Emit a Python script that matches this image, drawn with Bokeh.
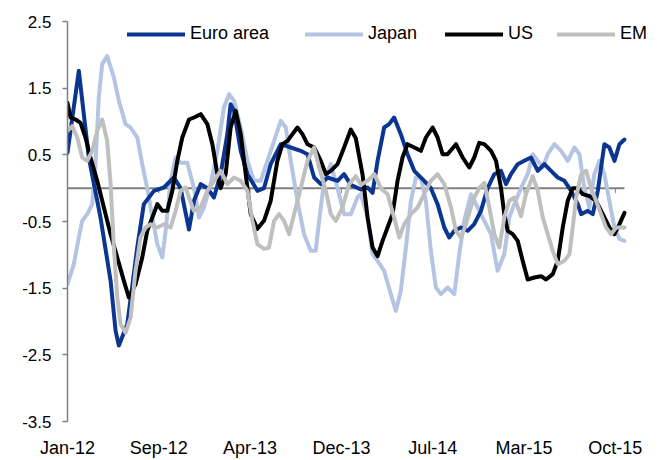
from bokeh.plotting import figure
from bokeh.models import Range1d, FixedTicker, Legend, LegendItem
from bokeh.embed import file_html
from bokeh.resources import INLINE

# x axis: months since mid-Jan 2012
x_tick_pos = [0, 7.5, 15, 22.5, 30, 37.5, 45]
x_tick_labels = ["Jan-12", "Sep-12", "Apr-13", "Dec-13", "Jul-14", "Mar-15", "Oct-15"]
y_tick_pos = [-3.5, -2.5, -1.5, -0.5, 0.5, 1.5, 2.5]
y_tick_labels = ["-3.5", "-2.5", "-1.5", "-0.5", "0.5", "1.5", "2.5"]

series_names = ["Euro area", "Japan", "US", "EM"]

euro_m = [0, 0.93, 1.75, 2.71, 3.54, 3.95, 4.22, 4.91, 5.73, 6.27, 7.10, 7.92, 8.74, 9.29, 9.98, 10.39, 10.94, 11.49, 12.03, 12.58,
          13.13, 13.40, 13.68, 14.23, 14.78, 15.60, 16.14, 16.69, 17.52, 18.34, 19.16, 19.71, 20.26, 20.81, 21.36, 22.18, 22.72, 23.27, 24.10, 24.65,
          25.06, 25.47, 26.01, 26.42, 26.83, 27.38, 27.93, 28.48, 29.30, 29.85, 30.40, 30.95, 31.36, 31.77, 32.32, 32.87, 33.41, 33.96, 34.51, 35.06,
          35.61, 36.02, 36.43, 36.98, 37.52, 38.07, 38.63, 39.17, 39.72, 40.27, 40.82, 41.37, 41.92, 42.19, 42.74, 43.15, 43.56, 44.10, 44.51, 44.93,
          45.34, 45.75]
euro_v = [0.53, 1.76, 0.46, -0.44, -1.39, -2.14, -2.36, -2.04, -0.89, -0.24, -0.04, 0.01, 0.16, 0.0, -0.62, -0.19, 0.06, 0.0, -0.14, 0.21,
          0.81, 1.26, 1.16, 0.56, 0.21, -0.04, 0.0, 0.36, 0.66, 0.61, 0.56, 0.51, 0.16, 0.06, 0.16, 0.11, 0.21, 0.05, -0.02, 0.01,
          -0.07, 0.41, 0.91, 0.96, 1.06, 0.81, 0.51, 0.26, 0.11, 0.0, -0.24, -0.59, -0.74, -0.64, -0.59, -0.64, -0.54, -0.34, 0.0, 0.21,
          0.26, 0.06, 0.21, 0.36, 0.41, 0.46, 0.26, 0.36, 0.26, 0.16, 0.11, -0.04, -0.24, -0.39, -0.34, -0.39, -0.04, 0.66, 0.61, 0.41,
          0.66, 0.73]

japan_m = [0, 0.52, 0.93, 1.21, 1.62, 2.03, 2.30, 2.57, 2.85, 3.26, 3.81, 4.22, 4.77, 5.18, 5.73, 6.14, 6.55, 6.97, 7.38, 7.79,
           8.06, 8.47, 8.88, 9.29, 9.84, 10.39, 10.80, 11.21, 11.76, 12.31, 12.85, 13.27, 13.68, 14.23, 14.78, 15.32, 15.87, 16.42, 16.97, 17.52,
           17.93, 18.34, 18.89, 19.43, 19.98, 20.39, 20.67, 21.08, 21.63, 22.18, 22.72, 23.27, 23.82, 24.10, 24.65, 25.06, 25.47, 26.01, 26.56, 26.97,
           27.38, 27.80, 28.21, 28.62, 29.03, 29.44, 29.85, 30.26, 30.67, 31.22, 31.77, 32.18, 32.59, 33.14, 33.69, 34.24, 34.79, 35.33, 35.88, 36.29,
           36.70, 37.25, 37.80, 38.22, 38.63, 39.04, 39.45, 40.00, 40.54, 41.09, 41.64, 42.05, 42.46, 42.87, 43.28, 43.70, 44.10, 44.51, 44.93, 45.34,
           45.75]
japan_v = [-1.44, -1.14, -0.74, -0.49, -0.39, -0.24, 0.36, 1.36, 1.86, 1.98, 1.66, 1.31, 0.96, 0.91, 0.76, 0.36, 0.0, -0.44, -0.84, -1.04,
           -0.64, 0.11, 0.46, 0.38, 0.38, 0.0, -0.44, -0.29, 0.06, 0.56, 1.21, 1.41, 1.31, 0.91, 0.41, 0.11, 0.11, 0.41, 0.71, 1.01,
           0.91, 0.41, -0.19, -0.69, -0.94, -0.94, -0.49, 0.11, 0.36, 0.0, -0.39, -0.39, -0.14, -0.09, -0.44, -0.99, -1.09, -1.24, -1.59, -1.84,
           -1.54, -0.89, -0.19, 0.16, 0.16, -0.19, -0.94, -1.49, -1.59, -1.49, -1.59, -0.99, -0.49, -0.09, -0.29, -0.49, -0.69, -1.24, -0.99, -0.44,
           -0.24, 0.0, 0.21, 0.51, 0.41, 0.31, 0.51, 0.66, 0.56, 0.41, 0.61, 0.51, 0.0, -0.29, 0.21, 0.41, 0.21, -0.19, -0.59, -0.76,
           -0.79]

us_m = [0, 0.25, 0.66, 1.07, 1.48, 1.89, 2.44, 2.99, 3.54, 4.09, 4.63, 5.04, 5.59, 6.14, 6.55, 6.97, 7.38, 7.79, 8.20, 8.61,
        9.02, 9.43, 9.98, 10.39, 10.94, 11.49, 11.90, 12.31, 12.58, 12.99, 13.40, 13.82, 14.23, 14.64, 15.05, 15.60, 16.14, 16.69, 17.24, 17.66,
        18.07, 18.48, 18.89, 19.30, 19.71, 20.26, 20.81, 21.22, 21.63, 22.18, 22.72, 23.27, 23.68, 24.24, 24.65, 25.06, 25.47, 25.88, 26.29, 26.70,
        27.11, 27.52, 27.93, 28.48, 29.03, 29.44, 29.99, 30.40, 30.81, 31.22, 31.91, 32.46, 33.00, 33.41, 33.82, 34.24, 34.79, 35.20, 35.61, 35.88,
        36.16, 36.57, 36.98, 37.39, 37.80, 38.35, 38.90, 39.31, 39.86, 40.27, 40.68, 41.09, 41.50, 41.92, 42.33, 42.87, 43.42, 43.97, 44.51, 44.93,
        45.34, 45.75]
us_v = [1.28, 1.06, 1.03, 0.98, 0.76, 0.46, 0.11, -0.29, -0.69, -1.04, -1.39, -1.64, -1.44, -1.04, -0.64, -0.44, -0.24, -0.34, -0.34, -0.04,
        0.41, 0.76, 1.03, 1.06, 1.11, 0.96, 0.66, 0.21, 0.0, 0.21, 0.91, 1.16, 0.81, 0.21, -0.39, -0.61, -0.49, -0.19, 0.41, 0.66,
        0.71, 0.81, 0.91, 0.81, 0.66, 0.61, 0.41, 0.21, 0.26, 0.36, 0.61, 0.88, 0.75, 0.2, -0.44, -0.89, -1.02, -0.79, -0.59, -0.39,
        0.11, 0.46, 0.66, 0.61, 0.56, 0.76, 0.91, 0.76, 0.51, 0.51, 0.66, 0.46, 0.31, 0.46, 0.68, 0.66, 0.56, 0.41, 0.0, -0.39,
        -0.64, -0.69, -0.79, -1.09, -1.37, -1.34, -1.32, -1.37, -1.29, -1.09, -0.59, -0.19, 0.0, 0.0, -0.09, -0.12, -0.19, -0.39, -0.59, -0.69,
        -0.54, -0.37]

em_m = [0, 0.39, 0.80, 1.21, 1.62, 2.03, 2.44, 2.85, 3.26, 3.54, 3.81, 4.09, 4.36, 4.77, 5.18, 5.59, 6.00, 6.41, 6.83, 7.38,
        7.92, 8.47, 8.88, 9.29, 9.70, 9.98, 10.39, 10.94, 11.49, 12.03, 12.58, 13.13, 13.68, 14.23, 14.78, 15.19, 15.60, 16.14, 16.55, 16.97,
        17.38, 17.79, 18.20, 18.61, 19.16, 19.71, 20.26, 20.67, 21.22, 21.63, 22.04, 22.59, 23.13, 23.68, 24.10, 24.65, 25.20, 25.74, 26.29, 26.83,
        27.25, 27.66, 28.21, 28.76, 29.30, 29.85, 30.40, 30.95, 31.50, 31.91, 32.32, 32.73, 33.28, 33.82, 34.24, 34.65, 35.06, 35.47, 35.88, 36.29,
        36.70, 37.25, 37.66, 38.21, 38.63, 39.04, 39.45, 39.86, 40.27, 40.82, 41.23, 41.50, 41.78, 42.19, 42.60, 43.01, 43.42, 43.83, 44.24, 44.65,
        45.07, 45.48, 45.75]
em_v = [0.86, 0.93, 0.76, 0.46, 0.41, 0.56, 0.86, 1.03, 0.71, 0.06, -0.89, -1.64, -2.04, -2.17, -1.94, -1.24, -0.74, -0.59, -0.54, -0.59,
        -0.54, -0.59, -0.34, -0.04, 0.01, -0.14, -0.34, -0.29, -0.04, 0.11, 0.26, 0.06, 0.16, 0.11, -0.04, -0.49, -0.84, -0.91, -0.89, -0.49,
        -0.39, -0.49, -0.69, -0.39, 0.0, 0.41, 0.61, 0.31, -0.04, -0.39, -0.49, -0.29, 0.06, 0.18, 0.05, 0.11, 0.21, 0.0, -0.09, -0.44,
        -0.74, -0.54, -0.39, -0.29, -0.09, 0.11, 0.21, 0.06, -0.29, -0.64, -0.74, -0.54, -0.19, 0.0, 0.08, -0.29, -0.69, -0.89, -0.44, -0.19,
        -0.14, -0.42, -0.09, 0.18, -0.04, -0.44, -0.69, -0.94, -1.14, -1.09, -0.99, -0.59, -0.14, 0.21, 0.26, 0.0, -0.19, -0.39, -0.59, -0.69,
        -0.59, -0.59, -0.59]

FONT = "Liberation Sans"
AXIS_GREY = "#808080"
Y_MIN, Y_MAX = -3.5, 2.5
PX_PER_UNIT = 400 / (Y_MAX - Y_MIN)
PX_PER_MONTH = 12.16
TOP_PAD, RIGHT_EXTRA = 13, 38  # room above/right of the data area for the legend

last_month = max(euro_m[-1], japan_m[-1], us_m[-1], em_m[-1])

p = figure(width=665, height=460, output_backend="svg", toolbar_location=None,
           x_range=Range1d(0, last_month + RIGHT_EXTRA / PX_PER_MONTH),
           y_range=Range1d(Y_MIN, Y_MAX + TOP_PAD / PX_PER_UNIT),
           min_border_left=67, min_border_right=3, min_border_top=8, min_border_bottom=39)
p.outline_line_color = None
p.grid.visible = False
p.background_fill_color = "white"
p.border_fill_color = "white"

# y axis
p.yaxis.ticker = FixedTicker(ticks=y_tick_pos)
p.yaxis.bounds = (Y_MIN, Y_MAX)
p.yaxis.major_label_overrides = {v: s for v, s in zip(y_tick_pos, y_tick_labels)}
p.yaxis.axis_line_color = AXIS_GREY
p.yaxis.axis_line_width = 1.5
p.yaxis.major_tick_line_color = AXIS_GREY
p.yaxis.major_tick_line_width = 1.5
p.yaxis.major_tick_out = 5
p.yaxis.major_tick_in = 0
p.yaxis.minor_tick_line_color = None
p.yaxis.major_label_standoff = 11
p.yaxis.major_label_text_font = FONT
p.yaxis.major_label_text_font_size = "17px"
p.yaxis.major_label_text_color = "black"

# x axis (labels only, at bottom)
p.xaxis.ticker = FixedTicker(ticks=x_tick_pos)
p.xaxis.major_label_overrides = {v: s for v, s in zip(x_tick_pos, x_tick_labels)}
p.xaxis.axis_line_color = None
p.xaxis.major_tick_line_color = None
p.xaxis.minor_tick_line_color = None
p.xaxis.major_label_standoff = 10
p.xaxis.major_label_text_font = FONT
p.xaxis.major_label_text_font_size = "18px"
p.xaxis.major_label_text_color = "black"

# zero line with tick marks (category axis crossing at 0)
p.line([0, last_month], [0, 0], line_color=AXIS_GREY, line_width=2)
p.segment(x0=x_tick_pos, y0=[0] * len(x_tick_pos), x1=x_tick_pos, y1=[-5 / PX_PER_UNIT] * len(x_tick_pos),
          line_color=AXIS_GREY, line_width=1)

r_japan = p.line(japan_m, japan_v, line_color="#b4c4e2", line_width=4, line_join="round", line_cap="round")
r_euro = p.line(euro_m, euro_v, line_color="#0a3591", line_width=4, line_join="round", line_cap="round")
r_us = p.line(us_m, us_v, line_color="#000000", line_width=4, line_join="round", line_cap="round")
r_em = p.line(em_m, em_v, line_color="#bfbfbf", line_width=4, line_join="round", line_cap="round")

renderers = [r_euro, r_japan, r_us, r_em]
legend_x = [60, 238, 378, 490]  # screen offsets from the plot's left edge
for name, rend, lx in zip(series_names, renderers, legend_x):
    lg = Legend(items=[LegendItem(label=name, renderers=[rend])],
                orientation="horizontal", location=(lx, 377),
                glyph_width=58, glyph_height=20, label_standoff=5,
                padding=0, margin=0, border_line_color=None, background_fill_alpha=0,
                label_text_font=FONT, label_text_font_size="18px", label_text_color="black")
    p.add_layout(lg)

open("out.html", "w").write(file_html(p, INLINE))
